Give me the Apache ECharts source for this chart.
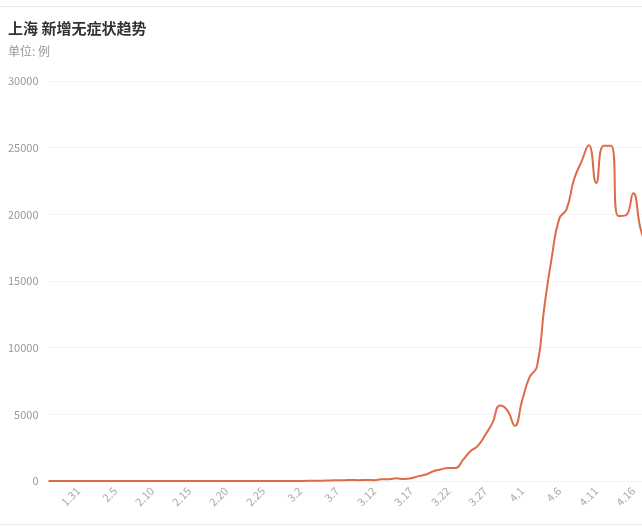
<!DOCTYPE html>
<html>
<head>
<meta charset="utf-8">
<script src="https://cdn.jsdelivr.net/npm/echarts@6/dist/echarts.min.js"></script>
<style>
html,body{margin:0;padding:0;background:#fff;overflow:hidden;}
#c{width:660px;height:526px;}
</style>
</head>
<body>
<div id="c"></div>
<script>
var dates = [
  '1.27','1.28','1.29','1.30','1.31',
  '2.1','2.2','2.3','2.4','2.5','2.6','2.7','2.8','2.9','2.10',
  '2.11','2.12','2.13','2.14','2.15','2.16','2.17','2.18','2.19','2.20',
  '2.21','2.22','2.23','2.24','2.25','2.26','2.27','2.28',
  '3.1','3.2','3.3','3.4','3.5','3.6','3.7','3.8','3.9','3.10',
  '3.11','3.12','3.13','3.14','3.15','3.16','3.17','3.18','3.19','3.20',
  '3.21','3.22','3.23','3.24','3.25','3.26','3.27','3.28','3.29','3.30','3.31',
  '4.1','4.2','4.3','4.4','4.5','4.6','4.7','4.8','4.9','4.10',
  '4.11','4.12','4.13','4.14','4.15','4.16','4.17','4.18'
];
var asymptomatic = [
  0,0,0,0,0,
  0,0,0,0,0,0,0,0,0,0,
  0,0,0,0,0,0,0,0,0,0,
  1,2,1,3,5,2,3,4,
  1,3,14,16,28,45,51,62,76,64,
  78,64,128,130,197,150,203,366,492,734,
  865,977,979,1580,2231,2631,3450,4381,5656,5298,4144,
  6051,7788,8581,13086,16766,19660,20398,22609,23937,25173,
  22348,25141,25146,19872,19923,21582,18900,17200
];
var yTicks = { min: 0, max: 30000, interval: 5000 };
var titleText = '上海 新增无症状趋势';
var subText = '单位: 例';

var chart = echarts.init(document.getElementById('c'), null, {renderer: 'canvas'});
chart.setOption({
  animation: false,
  textStyle: { fontFamily: 'Noto Sans CJK SC, Noto Sans, sans-serif' },
  title: {
    text: titleText,
    subtext: subText,
    left: 8,
    top: 20.5,
    padding: 0,
    itemGap: 10,
    textStyle: { fontSize: 15, fontWeight: 'bold', color: '#333', lineHeight: 15 },
    subtextStyle: { fontSize: 12, color: '#999', lineHeight: 12 }
  },
  graphic: [
    { type: 'line', shape: { x1: 0, y1: 6.5, x2: 660, y2: 6.5 }, style: { stroke: '#ececec', lineWidth: 1 } },
    { type: 'line', shape: { x1: 0, y1: 524.5, x2: 660, y2: 524.5 }, style: { stroke: '#ececec', lineWidth: 1 } }
  ],
  grid: { left: 48.5, right: 12, top: 81, bottom: 45, containLabel: false },
  xAxis: {
    type: 'category',
    data: dates,
    boundaryGap: false,
    axisLine: { show: true, lineStyle: { color: '#f2f2f2' } },
    axisTick: { show: false },
    axisLabel: {
      rotate: 45,
      color: '#aaa',
      fontSize: 11,
      margin: 8,
      interval: function (index) { return index % 5 === 4; }
    },
    splitLine: { show: false }
  },
  yAxis: {
    type: 'value',
    min: yTicks.min,
    max: yTicks.max,
    interval: yTicks.interval,
    axisLine: { show: false },
    axisTick: { show: false },
    axisLabel: { color: '#999', fontSize: 11, margin: 10, formatter: function (v) { return String(v); } },
    splitLine: { lineStyle: { color: '#f4f4f4' } }
  },
  series: [{
    type: 'line',
    data: asymptomatic,
    smooth: true,
    showSymbol: false,
    symbol: 'none',
    lineStyle: { width: 2, color: '#de6b48' },
    itemStyle: { color: '#de6b48' }
  }]
});
</script>
</body>
</html>
